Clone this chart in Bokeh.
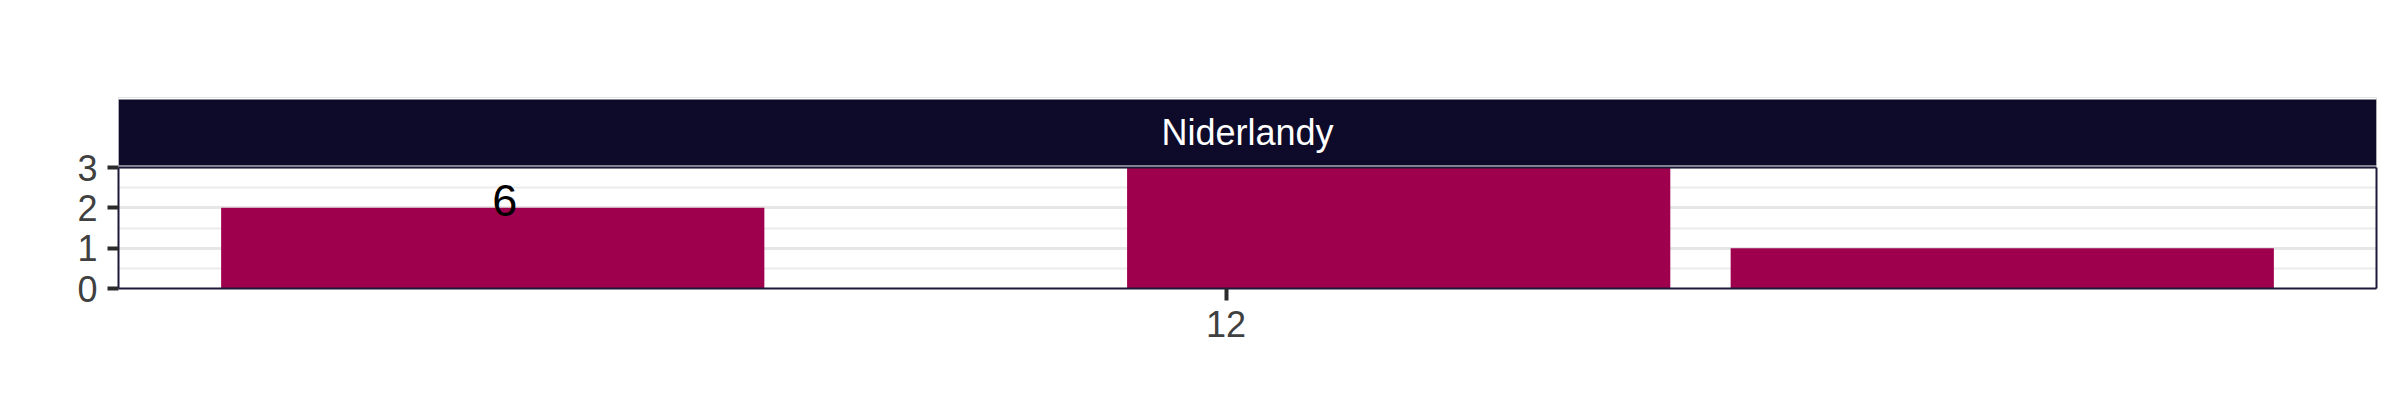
from bokeh.plotting import figure
from bokeh.models import Range1d, FixedTicker, LinearAxis, Span
from bokeh.core.properties import value
from bokeh.embed import file_html
from bokeh.resources import INLINE

# ---- data ----
facet_label = "Niderlandy"
x_positions = [10.785, 12.286, 13.286]
counts = [2, 3, 1]
bar_width = 0.9
x_ticks = [12]
y_ticks = [0, 1, 2, 3]
y_minor = [0.5, 1.5, 2.5]
note_x = [10.805]
note_y = [2.18]
note_text = ["6"]

FONT = "Liberation Sans"
BAR = "#9e004d"
STRIP = "#0d0a2a"
BORDER = "#1c1938"

# layout in pixels
PANEL_H = 121          # height of the 0..3 panel
STRIP_GAP = 2          # gap between panel top and strip
STRIP_H = 66           # dark strip height
STRIP_PAD = 2          # gap above strip to frame edge
FRAME_H = PANEL_H + STRIP_GAP + STRIP_H + STRIP_PAD
YMAX = max(y_ticks)
u = YMAX / PANEL_H     # data units per pixel
y_top = FRAME_H * u
strip_bottom = YMAX + STRIP_GAP * u
strip_top = strip_bottom + STRIP_H * u

lo = min(x_positions) - bar_width / 2
hi = max(x_positions) + bar_width / 2
pad = 0.05 * (hi - lo)
xr = Range1d(lo - pad, hi + pad)

p = figure(frame_width=2258, frame_height=FRAME_H, min_border_left=118, min_border_right=24,
           min_border_top=97, min_border_bottom=132, x_range=xr, y_range=Range1d(0, y_top),
           toolbar_location=None, output_backend="svg")
p.outline_line_color = "#e3e3e3"
p.outline_line_width = 1
p.xgrid.visible = False
p.ygrid.grid_line_color = "#e6e6e6"
p.ygrid.grid_line_width = 3
p.ygrid.minor_grid_line_color = "#ececec"
p.ygrid.minor_grid_line_width = 2

# facet strip
p.quad(left=[xr.start], right=[xr.end], bottom=[strip_bottom], top=[strip_top],
       fill_color=STRIP, line_color=None)
p.text(x=[(xr.start + xr.end) / 2], y=[(strip_bottom + strip_top) / 2], text=[facet_label],
       text_color="white", text_font=value(FONT), text_font_size="36px",
       text_align="center", text_baseline="middle")

p.vbar(x=x_positions, top=counts, bottom=0, width=bar_width, fill_color=BAR, line_color=None)
p.text(x=note_x, y=note_y, text=note_text, text_color="black", text_font=value(FONT),
       text_font_size="45px", text_align="center", text_baseline="middle")

# panel border
p.add_layout(Span(location=YMAX, dimension="width", line_color=BORDER, line_width=2))
right_ax = LinearAxis(ticker=FixedTicker(ticks=[]), bounds=(0, YMAX), axis_line_color=BORDER,
                      axis_line_width=2, major_tick_line_color=None, minor_tick_line_color=None,
                      major_label_text_font_size="0px")
p.add_layout(right_ax, "right")

p.yaxis[0].ticker = FixedTicker(ticks=y_ticks, minor_ticks=y_minor)
p.yaxis[0].bounds = (0, YMAX)
p.xaxis.ticker = FixedTicker(ticks=x_ticks)
for ax in (p.xaxis[0], p.yaxis[0]):
    ax.axis_line_color = BORDER
    ax.axis_line_width = 2
    ax.major_tick_line_color = "#2b2b2b"
    ax.major_tick_line_width = 4
    ax.major_tick_in = 0
    ax.minor_tick_line_color = None
    ax.major_label_text_font = FONT
    ax.major_label_text_font_size = "36px"
    ax.major_label_text_color = "#404040"
p.yaxis[0].major_tick_out = 11
p.yaxis[0].major_label_standoff = 10
p.xaxis.major_tick_out = 12
p.xaxis.major_label_standoff = 10

open("out.html", "w").write(file_html(p, INLINE))
